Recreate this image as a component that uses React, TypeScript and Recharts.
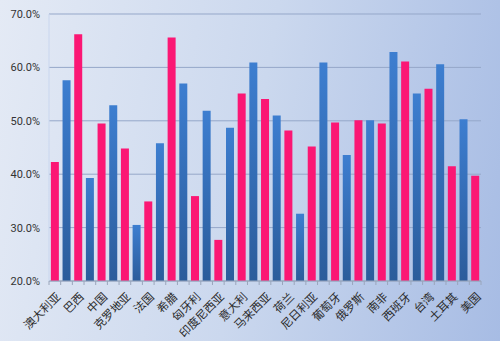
import React from 'react';
import { BarChart, Bar, Cell, XAxis, YAxis, CartesianGrid } from 'recharts';

const categories = [
  '澳大利亚', '巴西', '中国', '克罗地亚', '法国', '希腊', '匈牙利', '印度尼西亚', '意大利',
  '马来西亚', '荷兰', '尼日利亚', '葡萄牙', '俄罗斯', '南非', '西班牙', '台湾', '土耳其', '美国',
];

// pink bars sit on the labelled slots
const pinkValues = [
  42.3, 66.2, 49.5, 44.8, 34.9, 65.6, 35.9, 27.7, 55.1, 54.1,
  48.2, 45.2, 49.7, 50.1, 49.5, 61.1, 56.0, 41.5, 39.7,
];

// blue bars sit between them
const blueValues = [
  57.6, 39.3, 52.9, 30.5, 45.8, 57.0, 51.9, 48.7, 60.9,
  51.0, 32.6, 60.9, 43.6, 50.1, 62.9, 55.1, 60.6, 50.3,
];

const yTicks = [20, 30, 40, 50, 60, 70];

const slots: { slot: string; label: string; value: number; kind: 'pink' | 'blue' }[] = [];
categories.forEach((c, i) => {
  slots.push({ slot: `p${i}`, label: c, value: pinkValues[i], kind: 'pink' });
  if (i < blueValues.length) slots.push({ slot: `b${i}`, label: '', value: blueValues[i], kind: 'blue' });
});

const W = 500;
const H = 341;
const margin = { top: 14, right: 19, left: 0, bottom: 0 };
const yAxisW = 49;
const band = (W - margin.left - margin.right - yAxisW) / slots.length;

const CategoryTick = (props: any) => {
  const { x, y, index } = props;
  const item = slots[index];
  const tx = x + 3;
  const ty = y + 13;
  return (
    <g>
      <line x1={x - band / 2} x2={x - band / 2} y1={y} y2={y + 4} stroke="#9aa6bb" />
      {index === slots.length - 1 && (
        <line x1={x + band / 2} x2={x + band / 2} y1={y} y2={y + 4} stroke="#9aa6bb" />
      )}
      {item && item.label && (
        <text
          x={tx}
          y={ty}
          textAnchor="end"
          dominantBaseline="central"
          fontSize={11.5}
          fill="#2b2b2b"
          fontFamily="'Noto Sans CJK SC', sans-serif"
          transform={`rotate(-45 ${tx} ${ty})`}
        >
          {item.label}
        </text>
      )}
    </g>
  );
};

export default function App() {
  return (
    <div
      style={{
        position: 'fixed',
        left: 0,
        top: 0,
        width: W,
        height: H,
        background: 'linear-gradient(100deg, #e4eaf5 0%, #cbd8ee 50%, #a7bce4 100%)',
      }}
    >
      <BarChart width={W} height={H} data={slots} margin={margin} barCategoryGap="16%">
        <defs>
          <linearGradient id="blueGrad" x1="0" y1="0" x2="0" y2="1">
            <stop offset="0%" stopColor="#3d7ed0" />
            <stop offset="100%" stopColor="#2b5c9b" />
          </linearGradient>
        </defs>
        <CartesianGrid vertical={false} stroke="#95a7c9" strokeWidth={1} />
        <XAxis
          dataKey="slot"
          interval={0}
          height={60}
          tickSize={0}
          tickMargin={0}
          tick={<CategoryTick />}
          axisLine={{ stroke: '#9aa6bb' }}
          tickLine={false}
        />
        <YAxis
          width={yAxisW}
          domain={[20, 70]}
          ticks={yTicks}
          allowDataOverflow
          tickFormatter={(v: number) => `${v.toFixed(1)}%`}
          tick={{ fontSize: 11, fill: '#333', fontFamily: 'Roboto, sans-serif' }}
          tickSize={0}
          tickMargin={9}
          tickLine={false}
          axisLine={{ stroke: '#c9d6ee' }}
        />
        <Bar dataKey="value" isAnimationActive={false}>
          {slots.map((s, i) => (
            <Cell key={i} fill={s.kind === 'pink' ? '#fb1774' : 'url(#blueGrad)'} />
          ))}
        </Bar>
      </BarChart>
    </div>
  );
}
